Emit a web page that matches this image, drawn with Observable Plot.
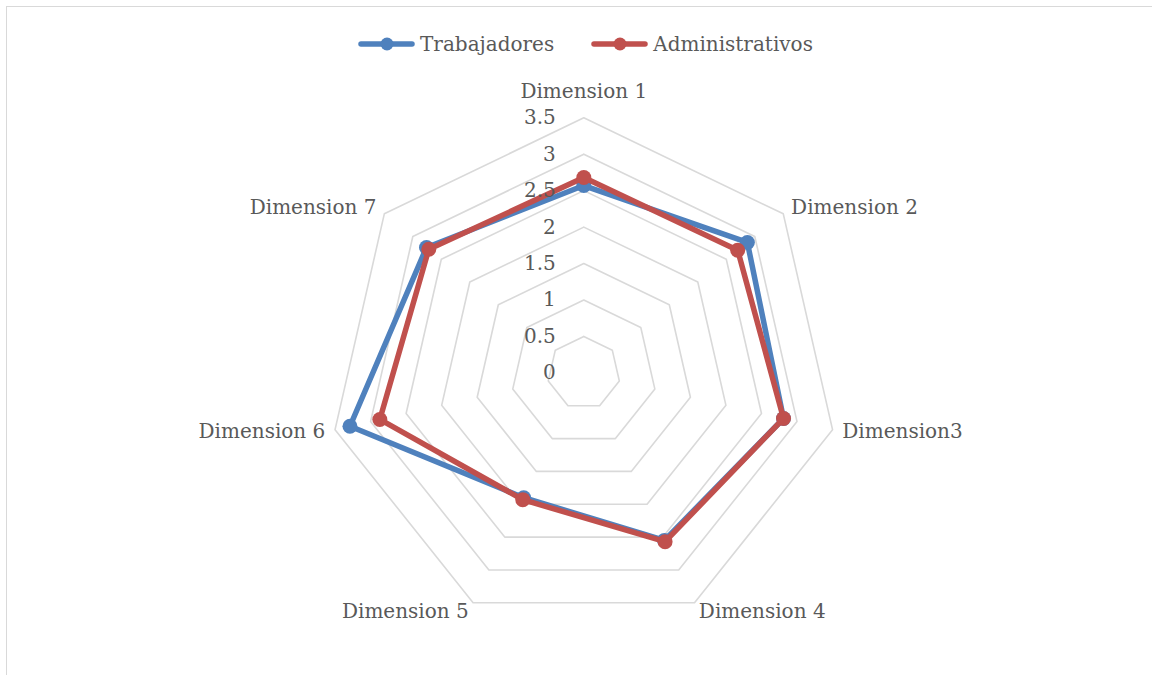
<!DOCTYPE html>
<html><head><meta charset="utf-8">
<script src="https://cdn.jsdelivr.net/npm/d3@7"></script>
<script src="https://cdn.jsdelivr.net/npm/@observablehq/plot@0.6"></script>
<style>
body{margin:0;background:#fff;width:1152px;height:675px;overflow:hidden;position:relative;font-family:"DejaVu Serif",serif;color:#595959}
#frame{position:absolute;left:6px;top:6px;width:1200px;height:700px;border-top:1.5px solid #d9d9d9;border-left:1.5px solid #d9d9d9}
#legend{position:absolute;top:32px;left:358px;height:24px;display:flex;align-items:center;font-size:20px;white-space:nowrap}
.item{display:flex;align-items:center}
.item svg{margin-right:5px}
#chart{position:absolute;left:0;top:70px}
</style></head><body>
<div id="frame"></div>
<div id="legend"></div>
<div id="chart"></div>
<script>
const categories = ["Dimension 1","Dimension 2","Dimension3","Dimension 4","Dimension 5","Dimension 6","Dimension 7"];
const levels = [0, 0.5, 1, 1.5, 2, 2.5, 3, 3.5];
const trabajadores = [2.57, 2.87, 2.81, 2.55, 1.90, 3.29, 2.76];
const administrativos = [2.68, 2.70, 2.81, 2.57, 1.93, 2.87, 2.72];
const seriesNames = ["Trabajadores", "Administrativos"];
const seriesColors = ["#4f81bd", "#c0504d"];

// layout
const W = 1152, H = 605;
const U = 72.9;          // px per unit
const CX = 583.3, CY = 302.4;
const RMAX = 3.5;
const textColor = "#595959";
const gridColor = "#d9d9d9";

const n = categories.length;
const ang = i => (i % n) * 2 * Math.PI / n;

// legend
const legend = document.getElementById("legend");
seriesNames.forEach((name, k) => {
  const it = document.createElement("div");
  it.className = "item";
  if (k > 0) it.style.marginLeft = "37px";
  it.innerHTML = `<svg width="57" height="16"><line x1="3" x2="54" y1="8" y2="8" stroke="${seriesColors[k]}" stroke-width="5.5" stroke-linecap="round"/><circle cx="29" cy="8" r="6.5" fill="${seriesColors[k]}"/></svg><span>${name}</span>`;
  legend.appendChild(it);
});

// rings
const ringRows = [];
levels.filter(l => l > 0).forEach(l => {
  for (let i = 0; i <= n; i++) ringRows.push({level: l, x: l * Math.sin(ang(i)), y: l * Math.cos(ang(i))});
});

// series
const seriesValues = [trabajadores, administrativos];
const lineRows = [], dotRows = [];
seriesValues.forEach((vals, k) => {
  for (let i = 0; i <= n; i++) {
    const v = vals[i % n];
    const row = {series: seriesNames[k], x: v * Math.sin(ang(i)), y: v * Math.cos(ang(i))};
    lineRows.push(row);
    if (i < n) dotRows.push(row);
  }
});

// category labels
const rl = RMAX + 10 / U;
const labelRows = categories.map((c, i) => {
  const s = Math.sin(ang(i));
  return {label: c, x: rl * s, y: rl * Math.cos(ang(i)), anchor: s > 0.1 ? "start" : s < -0.1 ? "end" : "middle"};
});

const marks = [
  Plot.line(ringRows, {x: "x", y: "y", z: "level", stroke: gridColor, strokeWidth: 1.6})
];
seriesNames.forEach((name, k) => {
  marks.push(Plot.line(lineRows.filter(d => d.series === name), {x: "x", y: "y", stroke: seriesColors[k], strokeWidth: 5.5, strokeLinejoin: "round"}));
  marks.push(Plot.dot(dotRows.filter(d => d.series === name), {x: "x", y: "y", r: 7.5, fill: seriesColors[k], stroke: "none"}));
});
marks.push(Plot.text(levels, {x: d => 0, y: d => d, text: d => String(d), textAnchor: "end", dx: -28, fontSize: 20, fill: textColor}));
["start", "end"].forEach(a => {
  marks.push(Plot.text(labelRows.filter(d => d.anchor === a), {x: "x", y: "y", text: "label", textAnchor: a, fontSize: 20, fill: textColor}));
});
marks.push(Plot.text(labelRows.filter(d => d.anchor === "middle"), {x: "x", y: "y", text: "label", textAnchor: "middle", dy: -16, fontSize: 20, fill: textColor}));

const chart = Plot.plot({
  width: W, height: H, margin: 0,
  style: {fontFamily: "DejaVu Serif", fontSize: "20px", background: "transparent", color: textColor},
  x: {type: "linear", domain: [-CX / U, (W - CX) / U], axis: null},
  y: {type: "linear", domain: [-(H - CY) / U, CY / U], axis: null},
  marks
});
document.getElementById("chart").appendChild(chart);
</script>
</body></html>
